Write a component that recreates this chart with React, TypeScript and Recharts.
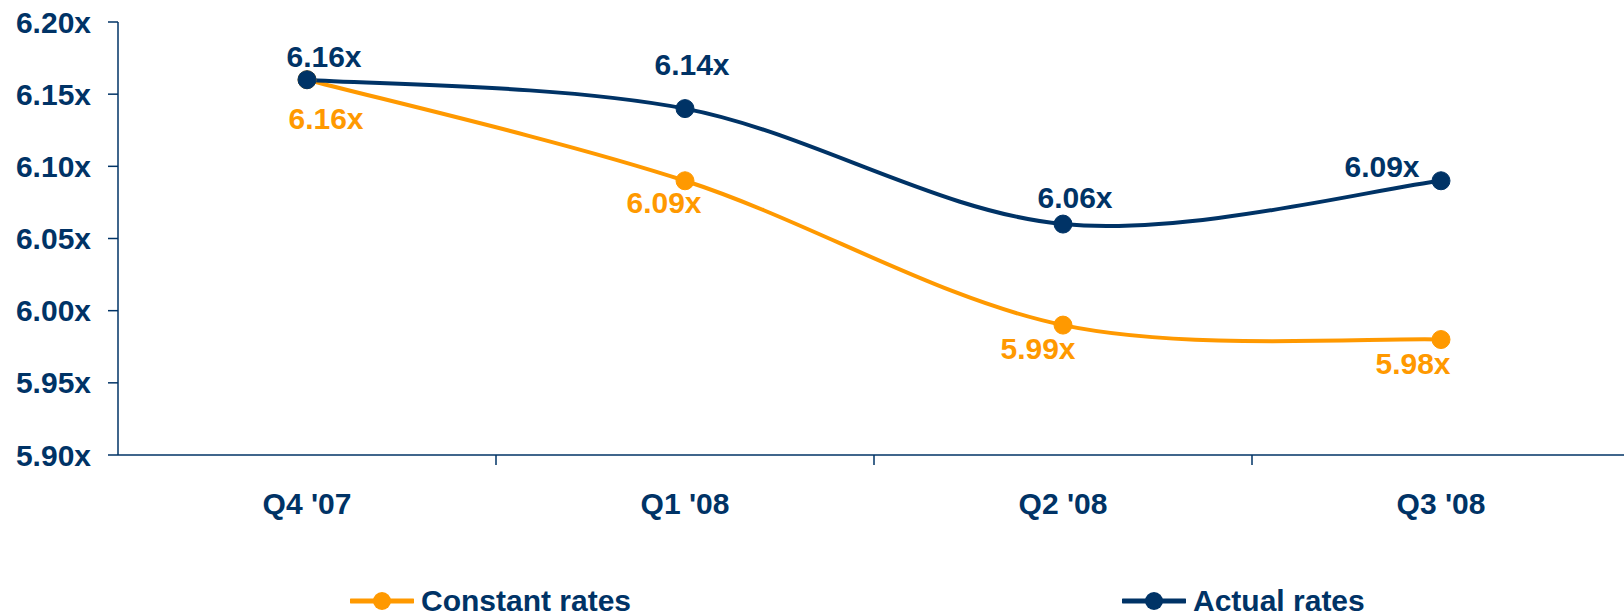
import { LineChart, Line, XAxis, YAxis, LabelList } from "recharts"

const quarters = ["Q4 '07", "Q1 '08", "Q2 '08", "Q3 '08"]
const constantRates = [6.16, 6.09, 5.99, 5.98]
const actualRates = [6.16, 6.14, 6.06, 6.09]
const yTicks = [5.9, 5.95, 6.0, 6.05, 6.1, 6.15, 6.2]

const data = quarters.map((q, i) => ({
  quarter: q,
  constant: constantRates[i],
  actual: actualRates[i],
}))

const NAVY = "#003366"
const ORANGE = "#FF9900"
const FONT = "'Liberation Sans', Arial, sans-serif"
const PLOT_W = 1512

// label offsets from each point, like the hand placed labels in the original
const actualOffsets = [[17, -23], [7, -44], [12, -27], [-59, -14]]
const constantOffsets = [[19, 39], [-21, 22], [-25, 23], [-28, 24]]

// excel style smoothed line (catmull-rom through the points)
const smooth = (context: any) => {
  let pts: number[][] = []
  return {
    areaStart() {},
    areaEnd() {},
    lineStart() {
      pts = []
    },
    point(x: number, y: number) {
      pts.push([+x, +y])
    },
    lineEnd() {
      const n = pts.length
      if (!n) return
      context.moveTo(pts[0][0], pts[0][1])
      for (let i = 0; i < n - 1; i++) {
        const p0 = pts[Math.max(i - 1, 0)]
        const p1 = pts[i]
        const p2 = pts[i + 1]
        const p3 = pts[Math.min(i + 2, n - 1)]
        context.bezierCurveTo(
          p1[0] + (p2[0] - p0[0]) / 6,
          p1[1] + (p2[1] - p0[1]) / 6,
          p2[0] - (p3[0] - p1[0]) / 6,
          p2[1] - (p3[1] - p1[1]) / 6,
          p2[0],
          p2[1]
        )
      }
    },
  }
}

const pointLabel = (color: string, offsets: number[][]) => (props: any) => {
  const { x, y, value, index } = props
  const [dx, dy] = offsets[index] || [0, -20]
  return (
    <text
      x={x + dx}
      y={y + dy}
      textAnchor="middle"
      dominantBaseline="central"
      fill={color}
      fontFamily={FONT}
      fontWeight="bold"
      fontSize={30}
    >
      {Number(value).toFixed(2)}x
    </text>
  )
}

// category label in the middle of its band, tick mark on the band's right edge
function QuarterTick(props: any) {
  const { x, y, payload, index, visibleTicksCount } = props
  const count = visibleTicksCount || quarters.length
  const w = typeof props.width === "number" && props.width > 0 ? props.width : PLOT_W
  const bw = w / count
  return (
    <g>
      {index < count - 1 && (
        <line x1={x + bw / 2} y1={y} x2={x + bw / 2} y2={y + 10} stroke={NAVY} strokeWidth={1.5} />
      )}
      <text
        x={x}
        y={y + 48}
        textAnchor="middle"
        dominantBaseline="central"
        fill={NAVY}
        fontFamily={FONT}
        fontWeight="bold"
        fontSize={30}
      >
        {payload.value}
      </text>
    </g>
  )
}

function LegendItem({ color, label, left }: { color: string; label: string; left: number }) {
  return (
    <div style={{ position: "absolute", left, top: 584, height: 34, display: "flex", alignItems: "center" }}>
      <svg width={64} height={24} style={{ marginRight: 7 }}>
        <line x1={1} y1={12} x2={63} y2={12} stroke={color} strokeWidth={5} strokeLinecap="round" />
        <circle cx={32} cy={12} r={9} fill={color} />
      </svg>
      <span style={{ color: NAVY, fontFamily: FONT, fontWeight: "bold", fontSize: 30, lineHeight: "34px" }}>{label}</span>
    </div>
  )
}

export default function App() {
  const tickStyle = { fill: NAVY, fontFamily: FONT, fontWeight: "bold", fontSize: 30 }
  return (
    <div style={{ position: "absolute", left: 0, top: 0, width: 1624, height: 616, overflow: "hidden", background: "#fff" }}>
      <LineChart width={1630} height={616} data={data} margin={{ top: 22, right: 0, bottom: 0, left: 0 }}>
        <XAxis
          dataKey="quarter"
          scale="band"
          height={161}
          axisLine={{ stroke: NAVY, strokeWidth: 1.5 }}
          tickLine={false}
          tickSize={0}
          tickMargin={0}
          tick={<QuarterTick />}
        />
        <YAxis
          domain={[5.9, 6.2]}
          ticks={yTicks}
          width={118}
          axisLine={{ stroke: NAVY, strokeWidth: 1.5 }}
          tickLine={{ stroke: NAVY, strokeWidth: 1.5 }}
          tickSize={10}
          tickMargin={17}
          tick={tickStyle}
          tickFormatter={(v: number) => v.toFixed(2) + "x"}
        />
        <Line
          dataKey="constant"
          type={smooth as any}
          stroke={ORANGE}
          strokeWidth={4}
          dot={{ r: 9, fill: ORANGE, stroke: ORANGE, strokeWidth: 1 }}
          isAnimationActive={false}
        >
          <LabelList dataKey="constant" content={pointLabel(ORANGE, constantOffsets)} />
        </Line>
        <Line
          dataKey="actual"
          type={smooth as any}
          stroke={NAVY}
          strokeWidth={4}
          dot={{ r: 9, fill: NAVY, stroke: NAVY, strokeWidth: 1 }}
          isAnimationActive={false}
        >
          <LabelList dataKey="actual" content={pointLabel(NAVY, actualOffsets)} />
        </Line>
      </LineChart>
      <LegendItem color={ORANGE} label="Constant rates" left={350} />
      <LegendItem color={NAVY} label="Actual rates" left={1122} />
    </div>
  )
}
